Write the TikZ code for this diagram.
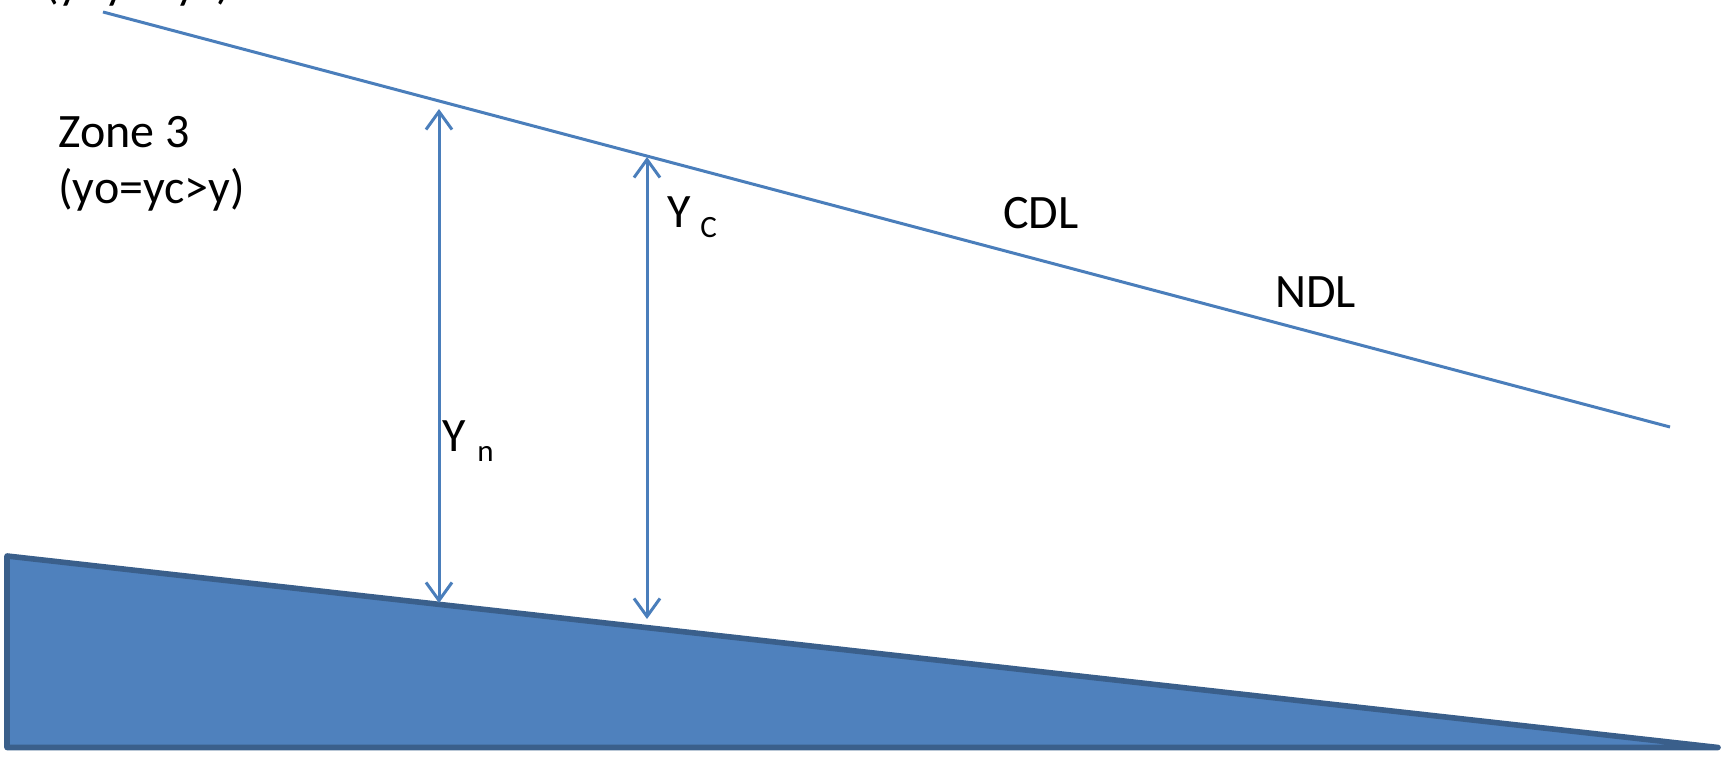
\documentclass[tikz,border=0pt]{standalone}
\usepackage{fontspec}
\setmainfont{Carlito}
\usepackage{xcolor}
\usetikzlibrary{arrows.meta}
\definecolor{linkblue}{HTML}{4A7EBB}
\definecolor{bedfill}{HTML}{4F81BD}
\definecolor{bededge}{HTML}{3A5F8B}
\tikzset{
  label/.style={font=\fontsize{24}{28}\selectfont, text=black, inner sep=0pt, anchor=base west, align=left},
  sublabel/.style={font=\fontsize{15.5}{18}\selectfont, text=black, inner sep=0pt, anchor=base west},
  profile/.style={draw=linkblue, line width=1.5pt},
  depth/.style={{Straight Barb[length=9pt,width=13pt]}-{Straight Barb[length=9pt,width=13pt]}, draw=linkblue, line width=1.5pt},
  bed/.style={draw=bededge, fill=bedfill, line width=2.8pt, line join=round}
}
\begin{document}
\begin{tikzpicture}[x=0.5pt,y=-0.5pt]
  \useasboundingbox (0,0) rectangle (1729,758);

  \coordinate (cdlstart) at (103,12);
  \coordinate (cdlend) at (1670,427);
  \draw[profile] (cdlstart) -- (cdlend);

  \draw[bed] (7,556) -- (1718,747.5) -- (7,747.5) -- cycle;

  \coordinate (yntop) at (439,109);
  \coordinate (ynbot) at (439,603);
  \coordinate (yctop) at (647,157);
  \coordinate (ycbot) at (647,619);
  \draw[depth] (yntop) -- (ynbot);
  \draw[depth] (yctop) -- (ycbot);

  \node[label] (zone2) at (44,-1) {(y>yo>yc)};
  \node[label] (zone3) at (58,148) {Zone 3};
  \node[label] (zone3b) at (58,204) {(yo=yc>y)};
  \node[label] (yc) at (667,228) {Y};
  \node[sublabel] (ycsub) at (700,238) {C};
  \node[label] (yn) at (442,452) {Y};
  \node[sublabel] (ynsub) at (477,462) {n};
  \node[label] (cdl) at (1003,229) {CDL};
  \node[label] (ndl) at (1275,308) {NDL};
\end{tikzpicture}
\end{document}
